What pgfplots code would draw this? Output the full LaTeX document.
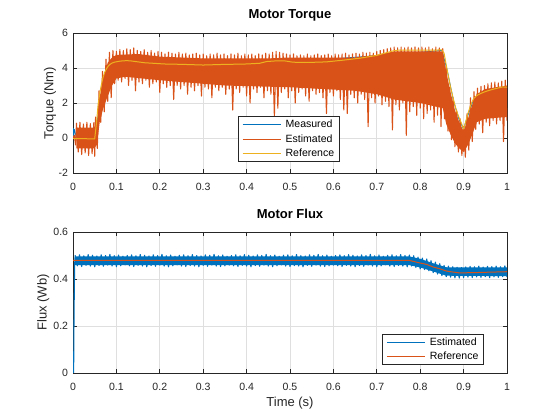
\documentclass[border=0pt]{standalone}
\usepackage{fontspec}
\setmainfont{Liberation Sans}
\usepackage{pgfplots}
\usepackage{pgfplotstable}
\pgfplotsset{compat=1.18}
\definecolor{mblue}{RGB}{0,114,189}
\definecolor{morange}{RGB}{217,83,25}
\definecolor{myellow}{RGB}{237,177,32}
\definecolor{axc}{RGB}{38,38,38}
\definecolor{gridc}{RGB}{223,223,223}

% ---------------- Torque data ----------------
\pgfplotstableread{
t v
0 0
0.001 0.55
0.002 0.1
0.003 0.5
0.005 0.3
0.007 0.1
0.010 0
0.050 0
0.070 3.3
0.100 4.3
0.300 4.2
0.500 4.35
0.700 4.7
0.850 5.0
0.862 3.9
0.877 2.1
0.889 1.1
0.900 0.5
0.910 1.3
0.923 2.2
0.950 2.6
1.000 2.9
}\tqmeas

\pgfplotstableread{
t v
0.000 0
0.003 0.15
0.006 -0.4
0.008 0.85
0.012 -0.8
0.016 0.9
0.020 -0.95
0.024 0.8
0.028 -0.85
0.032 0.9
0.036 -1.0
0.040 0.82
0.044 -0.9
0.048 0.88
0.050 -1.05
0.052 1.2
0.056 -0.6
0.060 2.7
0.064 0.9
0.068 3.8
0.072 1.5
0.076 4.5
0.080 2.1
0.084 4.9
0.088 2.3
0.092 5.0
0.096 3.1
0.100 4.95
0.104 3.3
0.108 5.05
0.112 3.2
0.116 5.0
0.120 3.4
0.124 5.1
0.128 3.0
0.132 5.05
0.136 3.3
0.140 5.15
0.144 2.7
0.148 5.0
0.152 3.2
0.156 4.95
0.160 3.1
0.164 5.05
0.168 3.3
0.172 4.9
0.176 2.9
0.180 5.0
0.184 3.1
0.188 4.85
0.192 3.2
0.196 4.95
0.200 2.6
0.204 4.9
0.208 3.1
0.212 4.8
0.216 2.9
0.220 4.9
0.224 3.0
0.228 4.85
0.232 2.2
0.236 4.8
0.240 3.0
0.244 4.9
0.248 2.8
0.252 4.8
0.256 3.0
0.260 4.85
0.264 2.5
0.268 4.75
0.272 2.9
0.276 4.8
0.280 2.7
0.284 4.85
0.288 3.0
0.292 4.75
0.296 2.4
0.300 4.8
0.304 2.9
0.308 4.7
0.312 2.8
0.316 4.8
0.320 2.3
0.324 4.75
0.328 2.9
0.332 4.85
0.336 2.7
0.340 4.75
0.344 2.9
0.348 4.8
0.352 2.5
0.356 4.7
0.360 2.8
0.364 4.8
0.368 1.6
0.372 4.75
0.376 2.8
0.380 4.85
0.384 2.6
0.388 4.7
0.392 2.9
0.396 4.8
0.400 2.4
0.404 4.75
0.408 2.0
0.412 4.8
0.416 2.8
0.420 4.7
0.424 2.6
0.428 4.8
0.432 2.9
0.436 4.75
0.440 2.3
0.444 4.85
0.448 2.7
0.452 4.8
0.456 2.5
0.460 4.9
0.464 1.2
0.468 4.95
0.472 1.7
0.476 4.9
0.480 2.6
0.484 4.85
0.488 2.8
0.492 4.8
0.496 2.3
0.500 4.75
0.504 2.7
0.508 4.8
0.512 2.0
0.516 4.7
0.520 2.6
0.524 4.75
0.528 2.8
0.532 4.7
0.536 2.4
0.540 4.8
0.544 2.1
0.548 4.7
0.552 2.7
0.556 4.75
0.560 2.5
0.564 4.8
0.568 2.6
0.572 4.7
0.576 2.3
0.580 4.75
0.584 1.4
0.588 4.8
0.592 2.6
0.596 4.7
0.600 2.4
0.604 4.8
0.608 2.7
0.612 4.75
0.616 2.2
0.620 4.8
0.624 1.6
0.628 4.85
0.632 1.4
0.636 4.75
0.640 2.5
0.644 4.8
0.648 2.3
0.652 4.85
0.656 2.0
0.660 4.8
0.664 2.5
0.668 4.9
0.672 2.2
0.676 4.85
0.680 0.65
0.684 4.9
0.688 2.3
0.692 4.85
0.696 2.0
0.700 4.95
0.704 2.4
0.708 5.0
0.712 1.9
0.716 5.05
0.720 2.1
0.724 5.1
0.728 1.8
0.732 5.15
0.736 0.46
0.740 5.2
0.744 1.9
0.748 5.15
0.752 1.6
0.756 5.2
0.760 2.0
0.764 5.15
0.768 0.15
0.772 5.2
0.776 1.5
0.780 5.15
0.784 1.8
0.788 5.2
0.792 1.3
0.796 5.15
0.800 1.7
0.804 5.2
0.808 1.1
0.812 5.15
0.816 1.4
0.820 5.2
0.824 1.6
0.828 5.1
0.832 0.9
0.836 5.2
0.840 1.3
0.844 5.15
0.848 0.65
0.852 5.1
0.856 1.1
0.860 4.1
0.864 0.4
0.868 2.9
0.872 -0.1
0.876 2.3
0.880 -0.5
0.884 1.6
0.888 -0.8
0.892 1.1
0.896 -1.0
0.900 0.65
0.904 -1.1
0.908 1.4
0.912 -0.7
0.916 2.3
0.920 -0.2
0.924 2.65
0.928 0.5
0.932 2.85
0.936 0.8
0.940 2.95
0.944 0.3
0.948 3.0
0.952 0.9
0.956 3.1
0.960 0.7
0.964 3.15
0.968 1.0
0.972 3.2
0.976 0.8
0.980 3.15
0.984 1.0
0.988 3.25
0.992 -0.2
0.996 3.3
1.000 1.0
}\tqest

\pgfplotstableread{
t v
0.008 0.6
0.048 0.6
0.055 0.8
0.062 2.4
0.070 3.5
0.080 4.3
0.090 4.6
0.100 4.75
0.150 4.8
0.200 4.65
0.300 4.55
0.450 4.55
0.500 4.6
0.650 4.6
0.700 4.75
0.740 4.95
0.852 4.95
0.860 3.8
0.870 2.6
0.880 1.6
0.890 0.9
0.900 0.4
0.910 1.1
0.920 1.9
0.930 2.5
0.950 2.8
1.000 3.0
1.000 1.2
0.950 1.1
0.930 0.9
0.920 0.2
0.910 -0.4
0.900 -0.8
0.890 -0.6
0.880 -0.3
0.870 0.2
0.860 0.8
0.852 1.7
0.800 2.0
0.740 2.2
0.700 2.5
0.650 2.7
0.500 2.9
0.350 3.0
0.200 3.3
0.120 3.5
0.100 3.4
0.090 3.0
0.080 2.4
0.070 1.7
0.062 1.0
0.055 -0.4
0.048 -0.6
0.008 -0.6
}\tqcore

\pgfplotstableread{
t v
0.000 -0.03
0.050 -0.05
0.052 0.4
0.055 1.1
0.058 1.95
0.062 2.6
0.065 3.0
0.069 3.45
0.073 3.75
0.077 3.95
0.081 4.1
0.085 4.2
0.089 4.27
0.095 4.33
0.105 4.38
0.115 4.41
0.125 4.42
0.135 4.4
0.147 4.36
0.165 4.3
0.185 4.27
0.210 4.23
0.250 4.21
0.300 4.17
0.340 4.2
0.400 4.23
0.430 4.27
0.446 4.37
0.470 4.41
0.490 4.4
0.507 4.33
0.546 4.32
0.584 4.35
0.623 4.45
0.661 4.56
0.700 4.72
0.720 4.86
0.738 4.98
0.750 5.02
0.850 5.03
0.855 4.85
0.862 3.9
0.870 2.9
0.877 2.17
0.883 1.6
0.889 1.2
0.895 0.85
0.900 0.52
0.905 0.95
0.910 1.4
0.916 1.85
0.923 2.25
0.930 2.42
0.940 2.55
0.950 2.65
0.960 2.73
0.970 2.8
0.980 2.86
0.990 2.92
1.000 2.9
}\tqref

% ---------------- Flux data ----------------
\pgfplotstableread{
t v
0.0015 0
0.002 0.15
0.003 0.35
0.004 0.47
0.005 0.500
0.010 0.456
0.015 0.503
0.020 0.453
0.025 0.499
0.030 0.458
0.035 0.504
0.040 0.455
0.045 0.501
0.050 0.452
0.055 0.498
0.060 0.457
0.065 0.503
0.070 0.454
0.075 0.500
0.080 0.459
0.085 0.505
0.090 0.455
0.095 0.499
0.100 0.452
0.105 0.502
0.110 0.456
0.115 0.497
0.120 0.460
0.125 0.500
0.130 0.456
0.135 0.503
0.140 0.453
0.145 0.499
0.150 0.458
0.155 0.504
0.160 0.455
0.165 0.501
0.170 0.452
0.175 0.498
0.180 0.457
0.185 0.503
0.190 0.454
0.195 0.500
0.200 0.459
0.205 0.505
0.210 0.455
0.215 0.499
0.220 0.452
0.225 0.502
0.230 0.456
0.235 0.497
0.240 0.460
0.245 0.501
0.250 0.455
0.255 0.503
0.260 0.453
0.265 0.499
0.270 0.457
0.275 0.504
0.280 0.455
0.285 0.500
0.290 0.452
0.295 0.498
0.300 0.458
0.305 0.503
0.310 0.454
0.315 0.501
0.320 0.459
0.325 0.505
0.330 0.455
0.335 0.499
0.340 0.453
0.345 0.502
0.350 0.456
0.355 0.497
0.360 0.459
0.365 0.500
0.370 0.456
0.375 0.503
0.380 0.453
0.385 0.499
0.390 0.458
0.395 0.504
0.400 0.455
0.405 0.501
0.410 0.452
0.415 0.498
0.420 0.457
0.425 0.503
0.430 0.454
0.435 0.500
0.440 0.459
0.445 0.505
0.450 0.455
0.455 0.499
0.460 0.452
0.465 0.502
0.470 0.456
0.475 0.497
0.480 0.460
0.485 0.501
0.490 0.455
0.495 0.503
0.500 0.453
0.505 0.499
0.510 0.457
0.515 0.504
0.520 0.455
0.525 0.500
0.530 0.452
0.535 0.498
0.540 0.458
0.545 0.503
0.550 0.454
0.555 0.501
0.560 0.459
0.565 0.505
0.570 0.455
0.575 0.499
0.580 0.453
0.585 0.502
0.590 0.456
0.595 0.497
0.600 0.459
0.605 0.500
0.610 0.456
0.615 0.503
0.620 0.453
0.625 0.499
0.630 0.458
0.635 0.504
0.640 0.455
0.645 0.501
0.650 0.452
0.655 0.498
0.660 0.457
0.665 0.503
0.670 0.454
0.675 0.500
0.680 0.459
0.685 0.505
0.690 0.455
0.695 0.499
0.700 0.452
0.705 0.502
0.710 0.456
0.715 0.497
0.720 0.460
0.725 0.501
0.730 0.455
0.735 0.503
0.740 0.453
0.745 0.499
0.750 0.457
0.755 0.504
0.760 0.455
0.765 0.500
0.770 0.452
0.775 0.502
0.780 0.455
0.785 0.499
0.790 0.449
0.795 0.493
0.800 0.443
0.805 0.489
0.810 0.440
0.815 0.485
0.820 0.435
0.825 0.478
0.830 0.427
0.835 0.472
0.840 0.421
0.845 0.465
0.850 0.414
0.855 0.458
0.860 0.410
0.865 0.455
0.870 0.408
0.875 0.452
0.880 0.405
0.885 0.450
0.890 0.404
0.895 0.449
0.900 0.406
0.905 0.451
0.910 0.408
0.915 0.454
0.920 0.406
0.925 0.452
0.930 0.409
0.935 0.455
0.940 0.407
0.945 0.451
0.950 0.410
0.955 0.454
0.960 0.406
0.965 0.453
0.970 0.409
0.975 0.455
0.980 0.407
0.985 0.452
0.990 0.410
0.995 0.456
1.000 0.408
}\flest

\pgfplotstableread{
t v
0.005 0.496
0.775 0.496
0.800 0.486
0.830 0.467
0.860 0.450
1.000 0.449
1.000 0.412
0.860 0.414
0.830 0.432
0.800 0.449
0.775 0.459
0.005 0.459
}\flcore

\pgfplotstableread{
t v
0.000 0.479
0.775 0.479
0.800 0.468
0.815 0.462
0.830 0.451
0.846 0.443
0.860 0.434
0.870 0.431
0.890 0.426
0.920 0.427
0.960 0.429
1.000 0.431
}\flref

\pgfplotsset{
  mstyle/.style={
    scale only axis,
    width=325.5bp,
    xmin=0, xmax=1,
    xtick={0,0.1,0.2,0.3,0.4,0.5,0.6,0.7,0.8,0.9,1},
    tick pos=both,
    tick align=inside,
    major tick length=3.3bp,
    axis line style={axc, line width=0.5bp},
    tick style={axc, line width=0.5bp},
    grid=major,
    major grid style={gridc, line width=0.5bp},
    /pgf/number format/assume math mode=true,
    ticklabel style={font=\fontsize{7.9bp}{9bp}\selectfont, text=axc, inner sep=0pt},
    xticklabel style={anchor=base, yshift=-13.3bp},
    yticklabel style={anchor=east, xshift=-3.5bp},
    label style={font=\fontsize{9.75bp}{11bp}\selectfont, text=axc},
    title style={font=\bfseries\fontsize{9.75bp}{11bp}\selectfont, text=black,
                 at={(axis description cs:0.5,1)}, anchor=center, yshift=7.5bp},
    legend cell align=left,
    legend style={draw=axc, line width=0.5bp, fill=white,
                  font=\fontsize{7.9bp}{9bp}\selectfont, text=black,
                  inner xsep=2.7bp, inner ysep=1bp, row sep=1bp,
                  nodes={inner sep=1.2bp, text height=5.9bp, text depth=1.6bp},
                  /tikz/every odd column/.append style={column sep=1.8bp}},
    legend image code/.code={\draw[#1, line width=0.6bp] (0bp,0bp) -- (29bp,0bp);},
  }
}

\begin{document}
\begin{tikzpicture}
\useasboundingbox (0,0) rectangle (420bp,315bp);

\begin{axis}[mstyle,
  at={(54.75bp,185.25bp)}, anchor=south west,
  height=105bp,
  ymin=-2, ymax=6, ytick={-2,0,2,4,6},
  title={Motor Torque},
  ylabel={Torque (Nm)},
  ylabel style={at={(axis description cs:-0.053,0.5)}, anchor=center},
  legend style={at={(0.4977,0.0786)}, anchor=south},
]
\addplot[mblue, line width=0.6bp, line join=round] table[x=t,y=v] {\tqmeas};
\addlegendentry{Measured}
\addplot[morange, line width=0.8bp, line join=round] table[x=t,y=v] {\tqest};
\addlegendentry{Estimated}
\addplot[fill=morange, draw=none, forget plot] table[x=t,y=v] {\tqcore};
\addplot[myellow, line width=0.75bp, line join=round] table[x=t,y=v] {\tqref};
\addlegendentry{Reference}
\end{axis}

\begin{axis}[mstyle,
  at={(54.75bp,35.25bp)}, anchor=south west,
  height=105.75bp,
  ymin=0, ymax=0.6, ytick={0,0.2,0.4,0.6},
  title={Motor Flux},
  xlabel={Time (s)},
  ylabel={Flux (Wb)},
  xlabel style={at={(axis description cs:0.5,0)}, anchor=center, yshift=-22.5bp},
  ylabel style={at={(axis description cs:-0.0684,0.5)}, anchor=center},
  legend style={at={(0.947,0.057)}, anchor=south east},
]
\addplot[mblue, line width=0.8bp, line join=round] table[x=t,y=v] {\flest};
\addlegendentry{Estimated}
\addplot[fill=mblue, draw=none, forget plot] table[x=t,y=v] {\flcore};
\addplot[morange, line width=0.75bp, line join=round] table[x=t,y=v] {\flref};
\addlegendentry{Reference}
\end{axis}
\end{tikzpicture}
\end{document}
